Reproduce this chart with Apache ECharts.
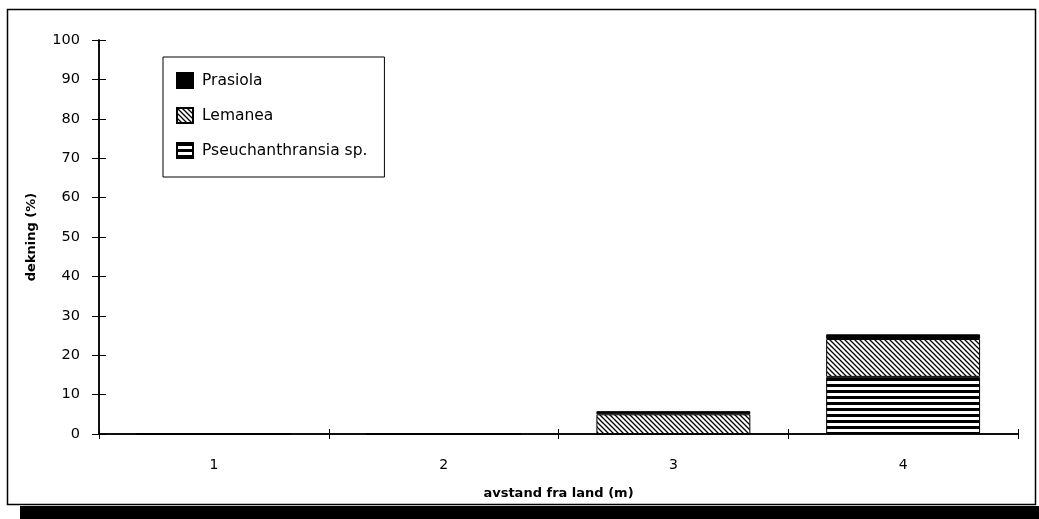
<!DOCTYPE html>
<html>
<head>
<meta charset="utf-8">
<script src="https://cdn.jsdelivr.net/npm/echarts@6/dist/echarts.min.js"></script>
<style>
html,body{margin:0;padding:0;background:#fff;}
#chart{width:1039px;height:519px;}
</style>
</head>
<body>
<div id="chart"></div>
<script>
// ---- data ----
const categories = ['1', '2', '3', '4'];
const prasiola = [0, 0, 0.8, 1.2];
const lemanea = [0, 0, 5.0, 9.6];
const pseuchanthransia = [0, 0, 0, 14.5];
const seriesNames = ['Prasiola', 'Lemanea', 'Pseuchanthransia sp.'];
const yTicks = { min: 0, max: 100, interval: 10 };
const xTitle = 'avstand fra land (m)';
const yTitle = 'dekning (%)';

// ---- patterns ----
function diagPattern() {
  const s = 5, c = document.createElement('canvas');
  c.width = s; c.height = s;
  const g = c.getContext('2d');
  g.fillStyle = '#fff'; g.fillRect(0, 0, s, s);
  g.strokeStyle = '#000'; g.lineWidth = 1.3;
  g.beginPath();
  g.moveTo(-1, -1); g.lineTo(s + 1, s + 1);
  g.moveTo(-1 - s, -1); g.lineTo(1, s + 1);
  g.moveTo(s - 1, -1); g.lineTo(2 * s + 1, s + 1);
  g.stroke();
  return c;
}
function hStripePattern() {
  const c = document.createElement('canvas');
  c.width = 6; c.height = 6;
  const g = c.getContext('2d');
  g.fillStyle = '#fff'; g.fillRect(0, 0, 6, 6);
  g.fillStyle = '#000'; g.fillRect(0, 0, 6, 3);
  return c;
}
const diag = { image: diagPattern(), repeat: 'repeat' };
const stripes = { image: hStripePattern(), repeat: 'repeat' };

const font = 'DejaVu Sans';
const chart = echarts.init(document.getElementById('chart'), null, { renderer: 'canvas' });

const baseX = {
  type: 'category', data: categories, boundaryGap: true,
  axisLine: { show: true, lineStyle: { color: '#000', width: 1.5 } },
  splitLine: { show: false }
};
const baseY = {
  type: 'value', min: yTicks.min, max: yTicks.max, interval: yTicks.interval,
  axisLine: { show: true, lineStyle: { color: '#000', width: 1.5 } },
  splitLine: { show: false }
};

chart.setOption({
  animation: false,
  backgroundColor: '#fff',
  grid: { left: 99, right: 21, top: 40, bottom: 85 },
  legend: {
    left: 163, top: 57, orient: 'vertical',
    data: seriesNames,
    icon: 'rect',
    itemWidth: 16, itemHeight: 15, itemGap: 18,
    padding: [15, 17, 18, 13],
    borderColor: '#000', borderWidth: 1,
    textStyle: { fontFamily: font, fontSize: 15.5, color: '#000', padding: [0, 0, 0, 4] }
  },
  xAxis: [
    Object.assign({}, baseX, {
      axisTick: { show: true, inside: false, length: 5, lineStyle: { color: '#000' } },
      axisLabel: { fontFamily: font, fontSize: 14, color: '#000', margin: 24 },
      name: xTitle, nameLocation: 'middle', nameGap: 53,
      nameTextStyle: { fontFamily: font, fontSize: 13, fontWeight: 'bold', color: '#000' }
    }),
    Object.assign({}, baseX, {
      position: 'bottom',
      axisTick: { show: true, inside: true, length: 5, lineStyle: { color: '#000' } },
      axisLabel: { show: false }
    })
  ],
  yAxis: [
    Object.assign({}, baseY, {
      axisTick: { show: true, inside: false, length: 7, lineStyle: { color: '#000' } },
      axisLabel: { fontFamily: font, fontSize: 14.5, color: '#000', margin: 19 },
      name: yTitle, nameLocation: 'middle', nameGap: 61, nameRotate: 90,
      nameTextStyle: { fontFamily: font, fontSize: 13, fontWeight: 'bold', color: '#000' }
    }),
    Object.assign({}, baseY, {
      position: 'left',
      axisTick: { show: true, inside: true, length: 7, lineStyle: { color: '#000' } },
      axisLabel: { show: false }
    })
  ],
  series: [
    {
      name: seriesNames[2], type: 'bar', stack: 'a', data: pseuchanthransia,
      barCategoryGap: '33%',
      itemStyle: { color: stripes, borderColor: '#000', borderWidth: 1 }
    },
    {
      name: seriesNames[1], type: 'bar', stack: 'a', data: lemanea,
      barCategoryGap: '33%',
      itemStyle: { color: diag, borderColor: '#000', borderWidth: 1 }
    },
    {
      name: seriesNames[0], type: 'bar', stack: 'a', data: prasiola,
      barCategoryGap: '33%',
      itemStyle: { color: '#000', borderColor: '#000', borderWidth: 1 }
    }
  ],
  graphic: [
    { type: 'rect', shape: { x: 7.5, y: 9.5, width: 1028, height: 495 },
      style: { fill: null, stroke: '#000', lineWidth: 1.5 }, silent: true },
    { type: 'rect', shape: { x: 20, y: 506, width: 1019, height: 13 },
      style: { fill: '#000' }, silent: true }
  ]
});
</script>
</body>
</html>
